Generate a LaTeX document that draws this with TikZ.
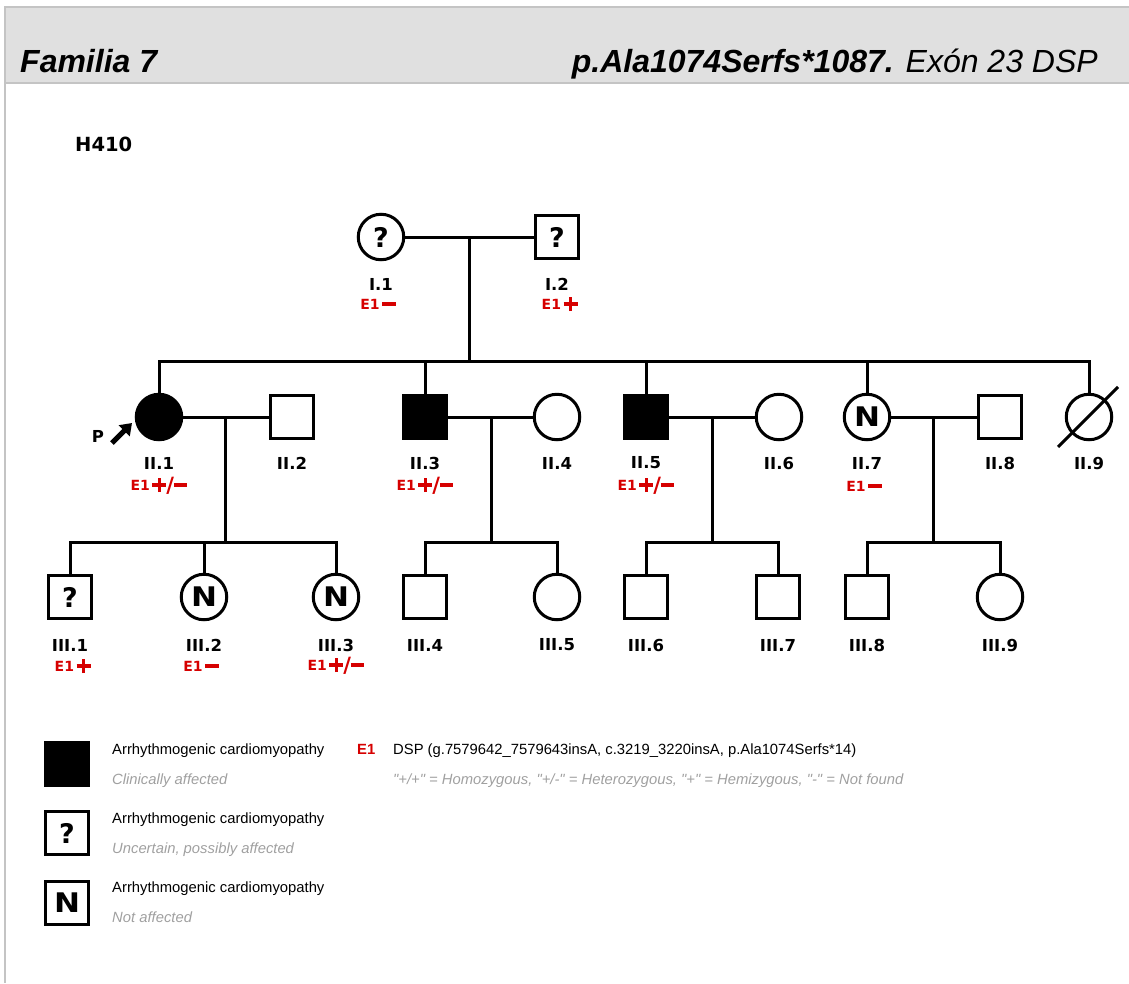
\documentclass[tikz,border=0pt]{standalone}
\usepackage{fontspec}
\setmainfont{Liberation Sans}
\newfontfamily\keyfont{Liberation Sans}
\newfontfamily\pedfont{DejaVu Sans}
\newfontfamily\nfont[FakeStretch=1.15]{DejaVu Sans}
\usetikzlibrary{arrows.meta, calc}

\definecolor{genred}{RGB}{214,0,0}
\definecolor{legendgray}{RGB}{160,160,160}
\definecolor{bandgray}{RGB}{224,224,224}
\definecolor{framegray}{RGB}{196,196,196}

% genotipo E1 en rojo
\newcommand{\genplus}{\rlap{\rule[3.3pt]{14pt}{3.6pt}}\hspace{5.2pt}\rule[-1.9pt]{3.6pt}{14pt}\hspace{5.2pt}}
\newcommand{\genminus}{\rule[3.3pt]{13.5pt}{3.6pt}}
\newcommand{\genslash}{\raisebox{-2.5pt}{\fontsize{21}{21}\selectfont/}}
\newcommand{\geno}[1]{{\fontsize{14}{14}\selectfont E1}\hspace{2.5pt}#1}

\tikzset{
  pedline/.style={line width=3pt},
  male/.style={draw, line width=3pt, rectangle, minimum size=43.5pt, inner sep=0pt,
    font=\pedfont\bfseries\fontsize{27}{27}\selectfont},
  female/.style={draw, line width=3pt, circle, minimum size=45.5pt, inner sep=0pt,
    font=\pedfont\bfseries\fontsize{27}{27}\selectfont},
  affected/.style={fill=black},
  idtext/.style={font=\pedfont\bfseries\fontsize{16.5}{16.5}\selectfont},
  genotext/.style={font=\pedfont\bfseries, text=genred},
  parrow/.style={line width=5pt, -{Triangle[length=11pt,width=15pt]}},
  legendtext/.style={anchor=base west, inner sep=0pt, font=\fontsize{14.8}{17}\selectfont},
  legendnote/.style={legendtext, font=\itshape\fontsize{14.8}{17}\selectfont, text=legendgray},
}

\begin{document}
\begin{tikzpicture}[x=1pt, y=-1pt]
    \useasboundingbox (0,0) rectangle (1129,983);
    % cabecera
    \fill[bandgray] (6,8) rectangle (1129,82);
    \draw[framegray, line width=1.5pt] (6,83) -- (1129,83);
    \draw[framegray, line width=2.5pt] (5,983) -- (5,7) -- (1129,7);
    \node[anchor=base west, inner sep=0pt, font=\bfseries\itshape\fontsize{32}{32}\selectfont] (famtitle) at (20,72) {Familia 7};
    \node[anchor=base east, inner sep=0pt, font=\itshape\fontsize{32}{32}\selectfont] (muttitle) at (1098,72) {\textbf{p.Ala1074Serfs*1087.} Exón 23 DSP};
    \node[anchor=base west, inner sep=0pt, font=\pedfont\bfseries\fontsize{19.5}{19.5}\selectfont] (famid) at (75,151) {H410};

    % generacion I
    \node[female] (I1) at (381,237) {?};
    \node[male] (I2) at (557,237) {?};

    % generacion II
    \node[female, affected] (II1) at (159,417) {};
    \node[male] (II2) at (292,417) {};
    \node[male, affected] (II3) at (425,417) {};
    \node[female] (II4) at (557,417) {};
    \node[male, affected] (II5) at (646,417) {};
    \node[female] (II6) at (779,417) {};
    \node[female] (II7) at (867,417) {\nfont N};
    \node[male] (II8) at (1000,417) {};
    \node[female] (II9) at (1089,417) {};
    \draw[pedline] ([shift={(-31,30)}]II9.center) -- ([shift={(29,-30)}]II9.center);

    % generacion III
    \node[male] (III1) at (70,597) {?};
    \node[female] (III2) at (204,597) {\nfont N};
    \node[female] (III3) at (336,597) {\nfont N};
    \node[male] (III4) at (425,597) {};
    \node[female] (III5) at (557,597) {};
    \node[male] (III6) at (646,597) {};
    \node[male] (III7) at (778,597) {};
    \node[male] (III8) at (867,597) {};
    \node[female] (III9) at (1000,597) {};

    % lineas I -> II
    \coordinate (sibII) at ($(I1)!0.5!(I2) + (0,124)$);
    \draw[pedline] (I1) -- (I2);
    \draw[pedline] ($(I1)!0.5!(I2)$) -- (sibII);
    \draw[pedline] (II1) |- (sibII) -| (II9);
    \foreach \k in {II3,II5,II7}
      \draw[pedline] (\k) -- (\k |- sibII);

    % lineas II -> III
    \coordinate (sibIIIa) at ($(II1)!0.5!(II2) + (0,125)$);
    \coordinate (sibIIIb) at ($(II3)!0.5!(II4) + (0,125)$);
    \coordinate (sibIIIc) at ($(II5)!0.5!(II6) + (0,125)$);
    \coordinate (sibIIId) at ($(II7)!0.5!(II8) + (0,125)$);
    \draw[pedline] (II1) -- (II2);
    \draw[pedline] (II3) -- (II4);
    \draw[pedline] (II5) -- (II6);
    \draw[pedline] (II7) -- (II8);
    \draw[pedline] ($(II1)!0.5!(II2)$) -- (sibIIIa);
    \draw[pedline] ($(II3)!0.5!(II4)$) -- (sibIIIb);
    \draw[pedline] ($(II5)!0.5!(II6)$) -- (sibIIIc);
    \draw[pedline] ($(II7)!0.5!(II8)$) -- (sibIIId);
    \draw[pedline] (III1) |- (sibIIIa) -| (III3);
    \draw[pedline] (III2) -- (III2 |- sibIIIa);
    \draw[pedline] (III4) |- (sibIIIb) -| (III5);
    \draw[pedline] (III6) |- (sibIIIc) -| (III7);
    \draw[pedline] (III8) |- (sibIIId) -| (III9);

    % probando
    \node[idtext, font=\pedfont\bfseries\fontsize{16.5}{16.5}\selectfont] (plab) at (98,436) {P};
    \coordinate (ptail) at (112,443);
    \coordinate (ptip) at (132,423);
    \draw[parrow] (ptail) -- (ptip);

    % identificadores
    \foreach \i/\x in {1/381,2/557}
      \node[idtext] (Iid\i) at (\x,284) {I.\i};
    \foreach \i/\x in {1/159,2/292,3/425,4/557,5/646,6/779,7/867,8/1000,9/1089}
      \node[idtext] (IIid\i) at (\x,463) {II.\i};
    \foreach \i/\x in {1/70,2/204,3/336,4/425,5/557,6/646,7/778,8/867,9/1000}
      \node[idtext] (IIIid\i) at (\x,645) {III.\i};

    % genotipos
    \node[genotext] (Ig1) at (378,304) {\geno{\genminus}};
    \node[genotext] (Ig2) at (557,304) {\geno{\genplus}};
    \node[genotext] (IIg1) at (159,486) {\geno{\genplus\genslash\genminus}};
    \node[genotext] (IIg3) at (425,486) {\geno{\genplus\genslash\genminus}};
    \node[genotext] (IIg5) at (646,486) {\geno{\genplus\genslash\genminus}};
    \node[genotext] (IIg7) at (864,486) {\geno{\genminus}};
    \node[genotext] (IIIg1) at (70,666) {\geno{\genplus}};
    \node[genotext] (IIIg2) at (201,666) {\geno{\genminus}};
    \node[genotext] (IIIg3) at (336,666) {\geno{\genplus\genslash\genminus}};

    % leyenda
    \node[male, affected] (legA) at (67,764) {};
    \node[male] (legU) at (67,833) {?};
    \node[male] (legN) at (67,903) {\nfont N};
    \node[legendtext] (legAt) at (112,754) {Arrhythmogenic cardiomyopathy};
    \node[legendnote] (legAn) at (112,784) {Clinically affected};
    \node[legendtext] (legUt) at (112,823) {Arrhythmogenic cardiomyopathy};
    \node[legendnote] (legUn) at (112,853) {Uncertain, possibly affected};
    \node[legendtext] (legNt) at (112,892) {Arrhythmogenic cardiomyopathy};
    \node[legendnote] (legNn) at (112,922) {Not affected};
    \node[legendtext, text=genred, font=\bfseries\fontsize{14.8}{17}\selectfont] (legE1) at (357,754) {E1};
    \node[legendtext] (legDSP) at (393,754) {DSP (g.7579642\_7579643insA, c.3219\_3220insA, p.Ala1074Serfs*14)};
    \node[legendnote, font=\keyfont\itshape\fontsize{14.8}{17}\selectfont] (legKey) at (393,784) {"+/+" = Homozygous, "+/-" = Heterozygous, "+" = Hemizygous, "-" = Not found};
  \end{tikzpicture}
\end{document}
